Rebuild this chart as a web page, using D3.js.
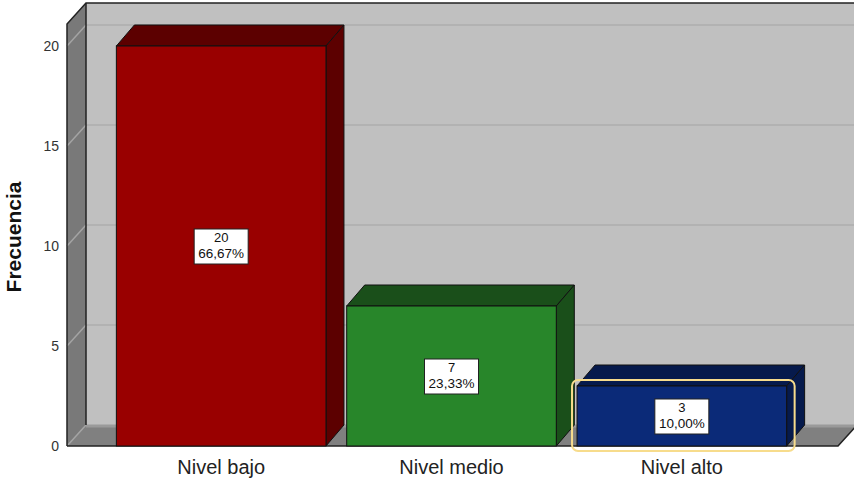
<!DOCTYPE html>
<html><head><meta charset="utf-8">
<script src="https://cdn.jsdelivr.net/npm/d3@7"></script>
<style>body{margin:0;background:#fff}svg{display:block}</style>
</head><body>
<svg id="c" width="854" height="479"></svg>
<script>
const categories = ["Nivel bajo", "Nivel medio", "Nivel alto"];
const counts = [20, 7, 3];
const percents = ["66,67%", "23,33%", "10,00%"];
const yTicks = [0, 5, 10, 15, 20];
const axisTitle = "Frecuencia";
const frontColors = ["#990000", "#28862a", "#0b2a78"];
const darkColors = ["#5c0000", "#1a4f1a", "#061a4c"];

const svg = d3.select("#c");
const DX = 19, DY = -21;
const x0 = 67, x1 = 838;
const y = d3.scaleLinear().domain([0, 20]).range([446, 46]);
const yTop = y.invert(24);
const x = d3.scaleBand().domain(categories).range([106, 797]).paddingInner(0.09).paddingOuter(0.045);

const poly = pts => pts.map(p => p.join(",")).join(" ");

// back wall
svg.append("polygon").attr("points", poly([[x0+DX, y(yTop)+DY],[870, y(yTop)+DY],[870, y(0)+DY],[x0+DX, y(0)+DY]]))
  .attr("fill", "#c0c0c0");
// gridlines on back wall
svg.selectAll(".gb").data(yTicks.filter(d => d > 0)).join("line")
  .attr("x1", x0+DX).attr("x2", 870).attr("y1", d => y(d)+DY).attr("y2", d => y(d)+DY)
  .attr("stroke", "#b2b2b2").attr("stroke-width", 2);
// left wall
svg.append("polygon").attr("points", poly([[x0, y(yTop)],[x0+DX, y(yTop)+DY],[x0+DX, y(0)+DY],[x0, y(0)]]))
  .attr("fill", "#797979");
svg.selectAll(".gs").data(yTicks.filter(d => d > 0)).join("line")
  .attr("x1", x0).attr("x2", x0+DX).attr("y1", d => y(d)).attr("y2", d => y(d)+DY)
  .attr("stroke", "#a4a4a4").attr("stroke-width", 1.5);
// floor
svg.append("polygon").attr("points", poly([[x0, y(0)],[x1, y(0)],[x1+DX, y(0)+DY],[x0+DX, y(0)+DY]]))
  .attr("fill", "#808080");
svg.append("line").attr("x1", x0+DX).attr("x2", 870).attr("y1", y(0)+DY+1).attr("y2", y(0)+DY+1)
  .attr("stroke", "#9a9a9a").attr("stroke-width", 3);
svg.append("line").attr("x1", x0).attr("x2", x0+DX).attr("y1", y(0)).attr("y2", y(0)+DY)
  .attr("stroke", "#a4a4a4").attr("stroke-width", 1.5);
// frame edges
svg.append("path").attr("d", `M${x0},${y(0)}L${x0},${y(yTop)}L${x0+DX},${y(yTop)+DY}L870,${y(yTop)+DY}`)
  .attr("fill", "none").attr("stroke", "#222").attr("stroke-width", 1.5);
svg.append("line").attr("x1", x0+DX).attr("x2", x0+DX).attr("y1", y(yTop)+DY).attr("y2", y(0)+DY)
  .attr("stroke", "#222").attr("stroke-width", 1.5);
svg.append("path").attr("d", `M${x0},${y(0)}L${x1},${y(0)}L${x1+DX},${y(0)+DY}`)
  .attr("fill", "none").attr("stroke", "#222").attr("stroke-width", 1.5);

// bars
const bx = 18;
const g = svg.selectAll(".bar").data(categories).join("g");
g.append("polygon").attr("points", (d, i) => {
  const l = x(d), r = x(d) + x.bandwidth(), t = y(counts[i]);
  return poly([[l, t],[l+bx, t+DY],[r+bx, t+DY],[r, t]]);
}).attr("fill", (d, i) => darkColors[i]).attr("stroke", "#111").attr("stroke-width", 1);
g.append("polygon").attr("points", (d, i) => {
  const r = x(d) + x.bandwidth(), t = y(counts[i]);
  return poly([[r, t],[r+bx, t+DY],[r+bx, y(0)+DY],[r, y(0)]]);
}).attr("fill", (d, i) => darkColors[i]).attr("stroke", "#111").attr("stroke-width", 1);
g.append("rect").attr("x", d => x(d)).attr("y", (d, i) => y(counts[i]))
  .attr("width", x.bandwidth()).attr("height", (d, i) => y(0) - y(counts[i]))
  .attr("fill", (d, i) => frontColors[i]).attr("stroke", "#111").attr("stroke-width", 1);

// highlight around last bar
const hl = categories[2];
svg.append("rect").attr("x", x(hl) - 5).attr("y", y(counts[2]) - 6)
  .attr("width", x.bandwidth() + 13).attr("height", y(0) - y(counts[2]) + 11)
  .attr("rx", 6).attr("fill", "none").attr("stroke", "#f7dc8c").attr("stroke-width", 2);

// labels
const lab = svg.selectAll(".lab").data(categories).join("g")
  .attr("transform", (d, i) => `translate(${x(d) + x.bandwidth()/2},${y(counts[i]/2)})`);
lab.append("rect").attr("x", -27).attr("y", -17).attr("width", 54).attr("height", 35)
  .attr("fill", "#fff").attr("stroke", "#222").attr("stroke-width", 1);
lab.append("text").attr("text-anchor", "middle").attr("y", -4)
  .attr("font-family", "Liberation Sans, Arial, sans-serif").attr("font-size", 13).attr("fill", "#111")
  .text((d, i) => counts[i]);
lab.append("text").attr("text-anchor", "middle").attr("y", 12)
  .attr("font-family", "Liberation Sans, Arial, sans-serif").attr("font-size", 13.5).attr("fill", "#111")
  .text((d, i) => percents[i]);

// y tick labels
svg.selectAll(".yt").data(yTicks).join("text")
  .attr("x", 59).attr("y", d => y(d) + 5).attr("text-anchor", "end")
  .attr("font-family", "Liberation Sans, Arial, sans-serif").attr("font-size", 14).attr("fill", "#333")
  .text(d => d);
// category labels
svg.selectAll(".xt").data(categories).join("text")
  .attr("x", d => x(d) + x.bandwidth()/2).attr("y", 474).attr("text-anchor", "middle")
  .attr("font-family", "Liberation Sans, Arial, sans-serif").attr("font-size", 20).attr("fill", "#222")
  .text(d => d);
// y title
svg.append("text").attr("transform", "translate(21,237) rotate(-90)").attr("text-anchor", "middle")
  .attr("font-family", "Liberation Sans, Arial, sans-serif").attr("font-size", 21).attr("font-weight", "bold")
  .attr("fill", "#111").text(axisTitle);
</script>
</body></html>
